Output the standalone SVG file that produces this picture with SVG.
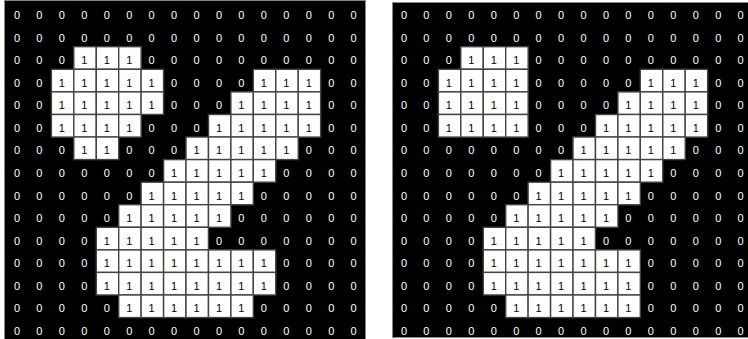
<svg xmlns="http://www.w3.org/2000/svg" width="748" height="339" viewBox="0 0 748 339">
<style>
text{font-family:"Liberation Sans",Arial,sans-serif;font-size:11px;text-anchor:middle;fill:#fff}
text.o{fill:#000}
.cells rect{fill:#fff;stroke:#444;stroke-width:1.4}
.bg{fill:#000;stroke:#888;stroke-width:1}
</style>
<rect width="748" height="339" fill="#fff"/>
<rect class="bg" x="4.5" y="0.5" width="361" height="340"/>
<rect class="bg" x="392.5" y="2.5" width="360" height="335"/>
<g id="grid-left">
<g class="cells">
<rect x="73.8" y="46.7" width="22.44" height="22.57"/><rect x="96.3" y="46.7" width="22.44" height="22.57"/><rect x="118.7" y="46.7" width="22.44" height="22.57"/>
<rect x="51.4" y="69.3" width="22.44" height="22.57"/><rect x="73.8" y="69.3" width="22.44" height="22.57"/><rect x="96.3" y="69.3" width="22.44" height="22.57"/><rect x="118.7" y="69.3" width="22.44" height="22.57"/><rect x="141.1" y="69.3" width="22.44" height="22.57"/><rect x="253.3" y="69.3" width="22.44" height="22.57"/><rect x="275.8" y="69.3" width="22.44" height="22.57"/><rect x="298.2" y="69.3" width="22.44" height="22.57"/>
<rect x="51.4" y="91.9" width="22.44" height="22.57"/><rect x="73.8" y="91.9" width="22.44" height="22.57"/><rect x="96.3" y="91.9" width="22.44" height="22.57"/><rect x="118.7" y="91.9" width="22.44" height="22.57"/><rect x="141.1" y="91.9" width="22.44" height="22.57"/><rect x="230.9" y="91.9" width="22.44" height="22.57"/><rect x="253.3" y="91.9" width="22.44" height="22.57"/><rect x="275.8" y="91.9" width="22.44" height="22.57"/><rect x="298.2" y="91.9" width="22.44" height="22.57"/>
<rect x="51.4" y="114.5" width="22.44" height="22.57"/><rect x="73.8" y="114.5" width="22.44" height="22.57"/><rect x="96.3" y="114.5" width="22.44" height="22.57"/><rect x="118.7" y="114.5" width="22.44" height="22.57"/><rect x="208.5" y="114.5" width="22.44" height="22.57"/><rect x="230.9" y="114.5" width="22.44" height="22.57"/><rect x="253.3" y="114.5" width="22.44" height="22.57"/><rect x="275.8" y="114.5" width="22.44" height="22.57"/><rect x="298.2" y="114.5" width="22.44" height="22.57"/>
<rect x="73.8" y="137" width="22.44" height="22.57"/><rect x="96.3" y="137" width="22.44" height="22.57"/><rect x="186" y="137" width="22.44" height="22.57"/><rect x="208.5" y="137" width="22.44" height="22.57"/><rect x="230.9" y="137" width="22.44" height="22.57"/><rect x="253.3" y="137" width="22.44" height="22.57"/><rect x="275.8" y="137" width="22.44" height="22.57"/>
<rect x="163.6" y="159.6" width="22.44" height="22.57"/><rect x="186" y="159.6" width="22.44" height="22.57"/><rect x="208.5" y="159.6" width="22.44" height="22.57"/><rect x="230.9" y="159.6" width="22.44" height="22.57"/><rect x="253.3" y="159.6" width="22.44" height="22.57"/>
<rect x="141.1" y="182.2" width="22.44" height="22.57"/><rect x="163.6" y="182.2" width="22.44" height="22.57"/><rect x="186" y="182.2" width="22.44" height="22.57"/><rect x="208.5" y="182.2" width="22.44" height="22.57"/><rect x="230.9" y="182.2" width="22.44" height="22.57"/>
<rect x="118.7" y="204.7" width="22.44" height="22.57"/><rect x="141.1" y="204.7" width="22.44" height="22.57"/><rect x="163.6" y="204.7" width="22.44" height="22.57"/><rect x="186" y="204.7" width="22.44" height="22.57"/><rect x="208.5" y="204.7" width="22.44" height="22.57"/>
<rect x="96.3" y="227.3" width="22.44" height="22.57"/><rect x="118.7" y="227.3" width="22.44" height="22.57"/><rect x="141.1" y="227.3" width="22.44" height="22.57"/><rect x="163.6" y="227.3" width="22.44" height="22.57"/><rect x="186" y="227.3" width="22.44" height="22.57"/>
<rect x="96.3" y="249.9" width="22.44" height="22.57"/><rect x="118.7" y="249.9" width="22.44" height="22.57"/><rect x="141.1" y="249.9" width="22.44" height="22.57"/><rect x="163.6" y="249.9" width="22.44" height="22.57"/><rect x="186" y="249.9" width="22.44" height="22.57"/><rect x="208.5" y="249.9" width="22.44" height="22.57"/><rect x="230.9" y="249.9" width="22.44" height="22.57"/><rect x="253.3" y="249.9" width="22.44" height="22.57"/>
<rect x="96.3" y="272.4" width="22.44" height="22.57"/><rect x="118.7" y="272.4" width="22.44" height="22.57"/><rect x="141.1" y="272.4" width="22.44" height="22.57"/><rect x="163.6" y="272.4" width="22.44" height="22.57"/><rect x="186" y="272.4" width="22.44" height="22.57"/><rect x="208.5" y="272.4" width="22.44" height="22.57"/><rect x="230.9" y="272.4" width="22.44" height="22.57"/><rect x="253.3" y="272.4" width="22.44" height="22.57"/>
<rect x="118.7" y="295" width="22.44" height="22.57"/><rect x="141.1" y="295" width="22.44" height="22.57"/><rect x="163.6" y="295" width="22.44" height="22.57"/><rect x="186" y="295" width="22.44" height="22.57"/><rect x="208.5" y="295" width="22.44" height="22.57"/><rect x="230.9" y="295" width="22.44" height="22.57"/>
</g>
<g id="L-r0" transform="translate(0,18.9)"><text x="17">0</text><text x="39.4">0</text><text x="61.9">0</text><text x="84.3">0</text><text x="106.8">0</text><text x="129.2">0</text><text x="151.6">0</text><text x="174.1">0</text><text x="196.5">0</text><text x="219">0</text><text x="241.4">0</text><text x="263.8">0</text><text x="286.3">0</text><text x="308.7">0</text><text x="331.2">0</text><text x="353.6">0</text></g>
<g id="L-r1" transform="translate(0,41.5)"><text x="17">0</text><text x="39.4">0</text><text x="61.9">0</text><text x="84.3">0</text><text x="106.8">0</text><text x="129.2">0</text><text x="151.6">0</text><text x="174.1">0</text><text x="196.5">0</text><text x="219">0</text><text x="241.4">0</text><text x="263.8">0</text><text x="286.3">0</text><text x="308.7">0</text><text x="331.2">0</text><text x="353.6">0</text></g>
<g id="L-r2" transform="translate(0,64)"><text x="17">0</text><text x="39.4">0</text><text x="61.9">0</text><text class="o" x="84.3">1</text><text class="o" x="106.8">1</text><text class="o" x="129.2">1</text><text x="151.6">0</text><text x="174.1">0</text><text x="196.5">0</text><text x="219">0</text><text x="241.4">0</text><text x="263.8">0</text><text x="286.3">0</text><text x="308.7">0</text><text x="331.2">0</text><text x="353.6">0</text></g>
<g id="L-r3" transform="translate(0,86.6)"><text x="17">0</text><text x="39.4">0</text><text class="o" x="61.9">1</text><text class="o" x="84.3">1</text><text class="o" x="106.8">1</text><text class="o" x="129.2">1</text><text class="o" x="151.6">1</text><text x="174.1">0</text><text x="196.5">0</text><text x="219">0</text><text x="241.4">0</text><text class="o" x="263.8">1</text><text class="o" x="286.3">1</text><text class="o" x="308.7">1</text><text x="331.2">0</text><text x="353.6">0</text></g>
<g id="L-r4" transform="translate(0,109.2)"><text x="17">0</text><text x="39.4">0</text><text class="o" x="61.9">1</text><text class="o" x="84.3">1</text><text class="o" x="106.8">1</text><text class="o" x="129.2">1</text><text class="o" x="151.6">1</text><text x="174.1">0</text><text x="196.5">0</text><text x="219">0</text><text class="o" x="241.4">1</text><text class="o" x="263.8">1</text><text class="o" x="286.3">1</text><text class="o" x="308.7">1</text><text x="331.2">0</text><text x="353.6">0</text></g>
<g id="L-r5" transform="translate(0,131.7)"><text x="17">0</text><text x="39.4">0</text><text class="o" x="61.9">1</text><text class="o" x="84.3">1</text><text class="o" x="106.8">1</text><text class="o" x="129.2">1</text><text x="151.6">0</text><text x="174.1">0</text><text x="196.5">0</text><text class="o" x="219">1</text><text class="o" x="241.4">1</text><text class="o" x="263.8">1</text><text class="o" x="286.3">1</text><text class="o" x="308.7">1</text><text x="331.2">0</text><text x="353.6">0</text></g>
<g id="L-r6" transform="translate(0,154.3)"><text x="17">0</text><text x="39.4">0</text><text x="61.9">0</text><text class="o" x="84.3">1</text><text class="o" x="106.8">1</text><text x="129.2">0</text><text x="151.6">0</text><text x="174.1">0</text><text class="o" x="196.5">1</text><text class="o" x="219">1</text><text class="o" x="241.4">1</text><text class="o" x="263.8">1</text><text class="o" x="286.3">1</text><text x="308.7">0</text><text x="331.2">0</text><text x="353.6">0</text></g>
<g id="L-r7" transform="translate(0,176.9)"><text x="17">0</text><text x="39.4">0</text><text x="61.9">0</text><text x="84.3">0</text><text x="106.8">0</text><text x="129.2">0</text><text x="151.6">0</text><text class="o" x="174.1">1</text><text class="o" x="196.5">1</text><text class="o" x="219">1</text><text class="o" x="241.4">1</text><text class="o" x="263.8">1</text><text x="286.3">0</text><text x="308.7">0</text><text x="331.2">0</text><text x="353.6">0</text></g>
<g id="L-r8" transform="translate(0,199.5)"><text x="17">0</text><text x="39.4">0</text><text x="61.9">0</text><text x="84.3">0</text><text x="106.8">0</text><text x="129.2">0</text><text class="o" x="151.6">1</text><text class="o" x="174.1">1</text><text class="o" x="196.5">1</text><text class="o" x="219">1</text><text class="o" x="241.4">1</text><text x="263.8">0</text><text x="286.3">0</text><text x="308.7">0</text><text x="331.2">0</text><text x="353.6">0</text></g>
<g id="L-r9" transform="translate(0,222)"><text x="17">0</text><text x="39.4">0</text><text x="61.9">0</text><text x="84.3">0</text><text x="106.8">0</text><text class="o" x="129.2">1</text><text class="o" x="151.6">1</text><text class="o" x="174.1">1</text><text class="o" x="196.5">1</text><text class="o" x="219">1</text><text x="241.4">0</text><text x="263.8">0</text><text x="286.3">0</text><text x="308.7">0</text><text x="331.2">0</text><text x="353.6">0</text></g>
<g id="L-r10" transform="translate(0,244.6)"><text x="17">0</text><text x="39.4">0</text><text x="61.9">0</text><text x="84.3">0</text><text class="o" x="106.8">1</text><text class="o" x="129.2">1</text><text class="o" x="151.6">1</text><text class="o" x="174.1">1</text><text class="o" x="196.5">1</text><text x="219">0</text><text x="241.4">0</text><text x="263.8">0</text><text x="286.3">0</text><text x="308.7">0</text><text x="331.2">0</text><text x="353.6">0</text></g>
<g id="L-r11" transform="translate(0,267.2)"><text x="17">0</text><text x="39.4">0</text><text x="61.9">0</text><text x="84.3">0</text><text class="o" x="106.8">1</text><text class="o" x="129.2">1</text><text class="o" x="151.6">1</text><text class="o" x="174.1">1</text><text class="o" x="196.5">1</text><text class="o" x="219">1</text><text class="o" x="241.4">1</text><text class="o" x="263.8">1</text><text x="286.3">0</text><text x="308.7">0</text><text x="331.2">0</text><text x="353.6">0</text></g>
<g id="L-r12" transform="translate(0,289.7)"><text x="17">0</text><text x="39.4">0</text><text x="61.9">0</text><text x="84.3">0</text><text class="o" x="106.8">1</text><text class="o" x="129.2">1</text><text class="o" x="151.6">1</text><text class="o" x="174.1">1</text><text class="o" x="196.5">1</text><text class="o" x="219">1</text><text class="o" x="241.4">1</text><text class="o" x="263.8">1</text><text x="286.3">0</text><text x="308.7">0</text><text x="331.2">0</text><text x="353.6">0</text></g>
<g id="L-r13" transform="translate(0,312.3)"><text x="17">0</text><text x="39.4">0</text><text x="61.9">0</text><text x="84.3">0</text><text x="106.8">0</text><text class="o" x="129.2">1</text><text class="o" x="151.6">1</text><text class="o" x="174.1">1</text><text class="o" x="196.5">1</text><text class="o" x="219">1</text><text class="o" x="241.4">1</text><text x="263.8">0</text><text x="286.3">0</text><text x="308.7">0</text><text x="331.2">0</text><text x="353.6">0</text></g>
<g id="L-r14" transform="translate(0,334.9)"><text x="17">0</text><text x="39.4">0</text><text x="61.9">0</text><text x="84.3">0</text><text x="106.8">0</text><text x="129.2">0</text><text x="151.6">0</text><text x="174.1">0</text><text x="196.5">0</text><text x="219">0</text><text x="241.4">0</text><text x="263.8">0</text><text x="286.3">0</text><text x="308.7">0</text><text x="331.2">0</text><text x="353.6">0</text></g>
</g>
<g id="grid-right" transform="translate(387,0)">
<g class="cells">
<rect x="73.8" y="46.7" width="22.44" height="22.57"/><rect x="96.3" y="46.7" width="22.44" height="22.57"/><rect x="118.7" y="46.7" width="22.44" height="22.57"/>
<rect x="51.4" y="69.3" width="22.44" height="22.57"/><rect x="73.8" y="69.3" width="22.44" height="22.57"/><rect x="96.3" y="69.3" width="22.44" height="22.57"/><rect x="118.7" y="69.3" width="22.44" height="22.57"/><rect x="253.3" y="69.3" width="22.44" height="22.57"/><rect x="275.8" y="69.3" width="22.44" height="22.57"/><rect x="298.2" y="69.3" width="22.44" height="22.57"/>
<rect x="51.4" y="91.9" width="22.44" height="22.57"/><rect x="73.8" y="91.9" width="22.44" height="22.57"/><rect x="96.3" y="91.9" width="22.44" height="22.57"/><rect x="118.7" y="91.9" width="22.44" height="22.57"/><rect x="230.9" y="91.9" width="22.44" height="22.57"/><rect x="253.3" y="91.9" width="22.44" height="22.57"/><rect x="275.8" y="91.9" width="22.44" height="22.57"/><rect x="298.2" y="91.9" width="22.44" height="22.57"/>
<rect x="51.4" y="114.5" width="22.44" height="22.57"/><rect x="73.8" y="114.5" width="22.44" height="22.57"/><rect x="96.3" y="114.5" width="22.44" height="22.57"/><rect x="118.7" y="114.5" width="22.44" height="22.57"/><rect x="208.5" y="114.5" width="22.44" height="22.57"/><rect x="230.9" y="114.5" width="22.44" height="22.57"/><rect x="253.3" y="114.5" width="22.44" height="22.57"/><rect x="275.8" y="114.5" width="22.44" height="22.57"/><rect x="298.2" y="114.5" width="22.44" height="22.57"/>
<rect x="186" y="137" width="22.44" height="22.57"/><rect x="208.5" y="137" width="22.44" height="22.57"/><rect x="230.9" y="137" width="22.44" height="22.57"/><rect x="253.3" y="137" width="22.44" height="22.57"/><rect x="275.8" y="137" width="22.44" height="22.57"/>
<rect x="163.6" y="159.6" width="22.44" height="22.57"/><rect x="186" y="159.6" width="22.44" height="22.57"/><rect x="208.5" y="159.6" width="22.44" height="22.57"/><rect x="230.9" y="159.6" width="22.44" height="22.57"/><rect x="253.3" y="159.6" width="22.44" height="22.57"/>
<rect x="141.1" y="182.2" width="22.44" height="22.57"/><rect x="163.6" y="182.2" width="22.44" height="22.57"/><rect x="186" y="182.2" width="22.44" height="22.57"/><rect x="208.5" y="182.2" width="22.44" height="22.57"/><rect x="230.9" y="182.2" width="22.44" height="22.57"/>
<rect x="118.7" y="204.7" width="22.44" height="22.57"/><rect x="141.1" y="204.7" width="22.44" height="22.57"/><rect x="163.6" y="204.7" width="22.44" height="22.57"/><rect x="186" y="204.7" width="22.44" height="22.57"/><rect x="208.5" y="204.7" width="22.44" height="22.57"/>
<rect x="96.3" y="227.3" width="22.44" height="22.57"/><rect x="118.7" y="227.3" width="22.44" height="22.57"/><rect x="141.1" y="227.3" width="22.44" height="22.57"/><rect x="163.6" y="227.3" width="22.44" height="22.57"/><rect x="186" y="227.3" width="22.44" height="22.57"/>
<rect x="96.3" y="249.9" width="22.44" height="22.57"/><rect x="118.7" y="249.9" width="22.44" height="22.57"/><rect x="141.1" y="249.9" width="22.44" height="22.57"/><rect x="163.6" y="249.9" width="22.44" height="22.57"/><rect x="186" y="249.9" width="22.44" height="22.57"/><rect x="208.5" y="249.9" width="22.44" height="22.57"/><rect x="230.9" y="249.9" width="22.44" height="22.57"/>
<rect x="96.3" y="272.4" width="22.44" height="22.57"/><rect x="118.7" y="272.4" width="22.44" height="22.57"/><rect x="141.1" y="272.4" width="22.44" height="22.57"/><rect x="163.6" y="272.4" width="22.44" height="22.57"/><rect x="186" y="272.4" width="22.44" height="22.57"/><rect x="208.5" y="272.4" width="22.44" height="22.57"/><rect x="230.9" y="272.4" width="22.44" height="22.57"/>
<rect x="118.7" y="295" width="22.44" height="22.57"/><rect x="141.1" y="295" width="22.44" height="22.57"/><rect x="163.6" y="295" width="22.44" height="22.57"/><rect x="186" y="295" width="22.44" height="22.57"/><rect x="208.5" y="295" width="22.44" height="22.57"/><rect x="230.9" y="295" width="22.44" height="22.57"/>
</g>
<g id="R-r0" transform="translate(0,18.9)"><text x="17">0</text><text x="39.4">0</text><text x="61.9">0</text><text x="84.3">0</text><text x="106.8">0</text><text x="129.2">0</text><text x="151.6">0</text><text x="174.1">0</text><text x="196.5">0</text><text x="219">0</text><text x="241.4">0</text><text x="263.8">0</text><text x="286.3">0</text><text x="308.7">0</text><text x="331.2">0</text><text x="353.6">0</text></g>
<g id="R-r1" transform="translate(0,41.5)"><text x="17">0</text><text x="39.4">0</text><text x="61.9">0</text><text x="84.3">0</text><text x="106.8">0</text><text x="129.2">0</text><text x="151.6">0</text><text x="174.1">0</text><text x="196.5">0</text><text x="219">0</text><text x="241.4">0</text><text x="263.8">0</text><text x="286.3">0</text><text x="308.7">0</text><text x="331.2">0</text><text x="353.6">0</text></g>
<g id="R-r2" transform="translate(0,64)"><text x="17">0</text><text x="39.4">0</text><text x="61.9">0</text><text class="o" x="84.3">1</text><text class="o" x="106.8">1</text><text class="o" x="129.2">1</text><text x="151.6">0</text><text x="174.1">0</text><text x="196.5">0</text><text x="219">0</text><text x="241.4">0</text><text x="263.8">0</text><text x="286.3">0</text><text x="308.7">0</text><text x="331.2">0</text><text x="353.6">0</text></g>
<g id="R-r3" transform="translate(0,86.6)"><text x="17">0</text><text x="39.4">0</text><text class="o" x="61.9">1</text><text class="o" x="84.3">1</text><text class="o" x="106.8">1</text><text class="o" x="129.2">1</text><text x="151.6">0</text><text x="174.1">0</text><text x="196.5">0</text><text x="219">0</text><text x="241.4">0</text><text class="o" x="263.8">1</text><text class="o" x="286.3">1</text><text class="o" x="308.7">1</text><text x="331.2">0</text><text x="353.6">0</text></g>
<g id="R-r4" transform="translate(0,109.2)"><text x="17">0</text><text x="39.4">0</text><text class="o" x="61.9">1</text><text class="o" x="84.3">1</text><text class="o" x="106.8">1</text><text class="o" x="129.2">1</text><text x="151.6">0</text><text x="174.1">0</text><text x="196.5">0</text><text x="219">0</text><text class="o" x="241.4">1</text><text class="o" x="263.8">1</text><text class="o" x="286.3">1</text><text class="o" x="308.7">1</text><text x="331.2">0</text><text x="353.6">0</text></g>
<g id="R-r5" transform="translate(0,131.7)"><text x="17">0</text><text x="39.4">0</text><text class="o" x="61.9">1</text><text class="o" x="84.3">1</text><text class="o" x="106.8">1</text><text class="o" x="129.2">1</text><text x="151.6">0</text><text x="174.1">0</text><text x="196.5">0</text><text class="o" x="219">1</text><text class="o" x="241.4">1</text><text class="o" x="263.8">1</text><text class="o" x="286.3">1</text><text class="o" x="308.7">1</text><text x="331.2">0</text><text x="353.6">0</text></g>
<g id="R-r6" transform="translate(0,154.3)"><text x="17">0</text><text x="39.4">0</text><text x="61.9">0</text><text x="84.3">0</text><text x="106.8">0</text><text x="129.2">0</text><text x="151.6">0</text><text x="174.1">0</text><text class="o" x="196.5">1</text><text class="o" x="219">1</text><text class="o" x="241.4">1</text><text class="o" x="263.8">1</text><text class="o" x="286.3">1</text><text x="308.7">0</text><text x="331.2">0</text><text x="353.6">0</text></g>
<g id="R-r7" transform="translate(0,176.9)"><text x="17">0</text><text x="39.4">0</text><text x="61.9">0</text><text x="84.3">0</text><text x="106.8">0</text><text x="129.2">0</text><text x="151.6">0</text><text class="o" x="174.1">1</text><text class="o" x="196.5">1</text><text class="o" x="219">1</text><text class="o" x="241.4">1</text><text class="o" x="263.8">1</text><text x="286.3">0</text><text x="308.7">0</text><text x="331.2">0</text><text x="353.6">0</text></g>
<g id="R-r8" transform="translate(0,199.5)"><text x="17">0</text><text x="39.4">0</text><text x="61.9">0</text><text x="84.3">0</text><text x="106.8">0</text><text x="129.2">0</text><text class="o" x="151.6">1</text><text class="o" x="174.1">1</text><text class="o" x="196.5">1</text><text class="o" x="219">1</text><text class="o" x="241.4">1</text><text x="263.8">0</text><text x="286.3">0</text><text x="308.7">0</text><text x="331.2">0</text><text x="353.6">0</text></g>
<g id="R-r9" transform="translate(0,222)"><text x="17">0</text><text x="39.4">0</text><text x="61.9">0</text><text x="84.3">0</text><text x="106.8">0</text><text class="o" x="129.2">1</text><text class="o" x="151.6">1</text><text class="o" x="174.1">1</text><text class="o" x="196.5">1</text><text class="o" x="219">1</text><text x="241.4">0</text><text x="263.8">0</text><text x="286.3">0</text><text x="308.7">0</text><text x="331.2">0</text><text x="353.6">0</text></g>
<g id="R-r10" transform="translate(0,244.6)"><text x="17">0</text><text x="39.4">0</text><text x="61.9">0</text><text x="84.3">0</text><text class="o" x="106.8">1</text><text class="o" x="129.2">1</text><text class="o" x="151.6">1</text><text class="o" x="174.1">1</text><text class="o" x="196.5">1</text><text x="219">0</text><text x="241.4">0</text><text x="263.8">0</text><text x="286.3">0</text><text x="308.7">0</text><text x="331.2">0</text><text x="353.6">0</text></g>
<g id="R-r11" transform="translate(0,267.2)"><text x="17">0</text><text x="39.4">0</text><text x="61.9">0</text><text x="84.3">0</text><text class="o" x="106.8">1</text><text class="o" x="129.2">1</text><text class="o" x="151.6">1</text><text class="o" x="174.1">1</text><text class="o" x="196.5">1</text><text class="o" x="219">1</text><text class="o" x="241.4">1</text><text x="263.8">0</text><text x="286.3">0</text><text x="308.7">0</text><text x="331.2">0</text><text x="353.6">0</text></g>
<g id="R-r12" transform="translate(0,289.7)"><text x="17">0</text><text x="39.4">0</text><text x="61.9">0</text><text x="84.3">0</text><text class="o" x="106.8">1</text><text class="o" x="129.2">1</text><text class="o" x="151.6">1</text><text class="o" x="174.1">1</text><text class="o" x="196.5">1</text><text class="o" x="219">1</text><text class="o" x="241.4">1</text><text x="263.8">0</text><text x="286.3">0</text><text x="308.7">0</text><text x="331.2">0</text><text x="353.6">0</text></g>
<g id="R-r13" transform="translate(0,312.3)"><text x="17">0</text><text x="39.4">0</text><text x="61.9">0</text><text x="84.3">0</text><text x="106.8">0</text><text class="o" x="129.2">1</text><text class="o" x="151.6">1</text><text class="o" x="174.1">1</text><text class="o" x="196.5">1</text><text class="o" x="219">1</text><text class="o" x="241.4">1</text><text x="263.8">0</text><text x="286.3">0</text><text x="308.7">0</text><text x="331.2">0</text><text x="353.6">0</text></g>
<g id="R-r14" transform="translate(0,334.9)"><text x="17">0</text><text x="39.4">0</text><text x="61.9">0</text><text x="84.3">0</text><text x="106.8">0</text><text x="129.2">0</text><text x="151.6">0</text><text x="174.1">0</text><text x="196.5">0</text><text x="219">0</text><text x="241.4">0</text><text x="263.8">0</text><text x="286.3">0</text><text x="308.7">0</text><text x="331.2">0</text><text x="353.6">0</text></g>
</g>
</svg>
